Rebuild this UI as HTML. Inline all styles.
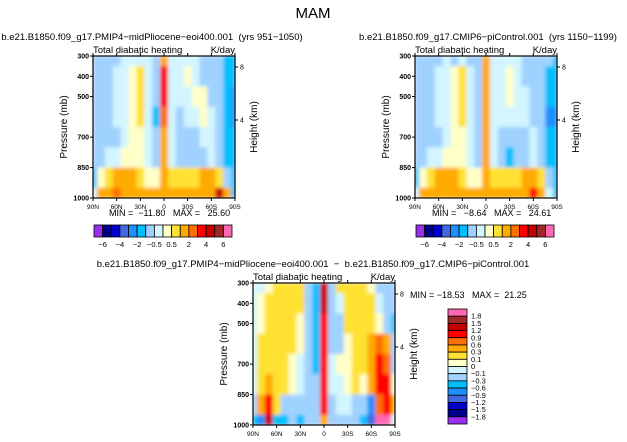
<!DOCTYPE html>
<html><head><meta charset="utf-8"><style>
body{margin:0;background:#fff}
svg{display:block;font-family:"Liberation Sans",sans-serif}
text{white-space:pre}
</style></head><body>
<svg id="s" width="627" height="442" viewBox="0 0 627 442">
<defs>
<filter id="soft" x="0" y="0" width="1" height="1"><feGaussianBlur stdDeviation="1.8" edgeMode="duplicate"/></filter>
</defs>
<text x="313" y="18" font-size="15" text-anchor="middle" fill="#000">MAM</text>
</svg>
<script>
const lats = ['90N','80N','70N','60N','50N','40N','30N','20N','10N','0','10S','20S','30S','40S','50S','60S','70S','80S','90S'];
const plevs = [300,400,500,600,700,800,900,1000];
const palette = ['#9b2ff0','#00008b','#0000cd','#4169e1','#1e90ff','#00bfff','#a0d2ff','#d2f5ff','#ffffc8','#ffe132','#ffaa00','#ff6e00','#ff0000','#c80000','#a02828','#ff69b4'];
const levelsAbs = [-6,-5,-4,-3,-2,-1,-0.5,0,0.5,1,2,3,4,5,6];
const levelsDiff = [-1.8,-1.5,-1.2,-0.9,-0.6,-0.3,-0.1,0,0.1,0.3,0.6,0.9,1.2,1.5,1.8];
const absLabels = ['-6','-4','-2','-0.5','0.5','2','4','6'];
const diffLabels = ['1.8','1.5','1.2','0.9','0.6','0.3','0.1','0','-0.1','-0.3','-0.6','-0.9','-1.2','-1.5','-1.8'];
const pTicks = [300,400,500,700,850,1000];
const latTicks = ['90N','60N','30N','0','30S','60S','90S'];
const field1 = [
[-0.7,-0.7,-0.7,-0.7,-0.3,-0.3,-0.3,-0.3,-0.7,1.5,-0.3,-0.3,-0.3,-0.3,-0.7,-0.7,-0.7,-1.5,-1.5],
[-0.7,-0.7,-0.7,-0.3,-0.3,0.3,0.7,-0.3,-0.7,3.5,-0.3,-0.3,0.3,-0.3,-0.7,-0.7,-0.7,-1.5,-1.5],
[-0.7,-0.7,-0.7,-0.3,-0.3,0.3,0.7,-0.3,-0.7,3.5,-0.3,-0.3,-0.3,0.3,0.3,-0.7,-0.7,-1.5,-2.5],
[-0.7,-0.7,-0.7,-0.3,-0.3,0.3,0.7,-0.3,-1.5,2.5,-0.3,-0.7,-0.3,-0.3,0.3,-0.3,-0.7,-1.5,-2.5],
[-0.7,-0.7,-0.7,-0.7,-0.3,0.3,0.3,-0.3,-0.7,1.5,-0.3,-0.7,-0.7,-0.7,-0.3,-0.3,-0.7,-1.5,-1.5],
[-0.7,-0.7,-0.3,-0.3,0.3,0.3,0.3,-0.3,-0.7,1.5,-0.3,-0.7,-0.7,-0.7,-0.7,-0.3,-0.7,-1.5,-1.5],
[-1.5,0.3,0.7,1.5,1.5,1.5,0.7,0.3,0.3,1.5,0.7,0.7,0.7,0.7,1.5,1.5,0.7,-0.7,-1.5],
[-0.3,1.5,1.5,2.5,1.5,1.5,1.5,1.5,1.5,1.5,1.5,1.5,1.5,1.5,1.5,1.5,4.5,1.5,-1.5]];
const field2 = [
[-0.7,-0.7,-0.7,-0.7,-0.3,-0.7,-0.3,-0.7,-0.7,1.5,-0.3,-0.3,-0.3,-0.3,-0.7,-0.7,-0.7,-0.7,-1.5],
[-0.7,-0.7,-0.7,-0.3,-0.3,0.3,0.7,-0.3,-0.7,1.5,-0.3,-0.3,0.3,-0.3,-0.7,-0.7,-0.7,-1.5,-1.5],
[-0.7,-0.7,-0.7,-0.3,-0.3,0.3,0.7,-0.3,-0.7,1.5,-0.3,-0.3,0.3,-0.3,-0.3,-0.7,-0.7,-1.5,-1.5],
[-0.7,-0.7,-0.7,-0.3,-0.3,0.3,0.7,-0.3,-0.7,1.5,-0.3,-0.3,-0.3,-0.3,-0.3,-0.7,-0.7,-2.5,-2.5],
[-0.7,-0.7,-0.7,-0.7,-0.3,0.3,0.3,-0.3,-0.7,1.5,-0.3,-0.7,-0.7,-0.7,-0.7,-0.3,-0.7,-1.5,-1.5],
[-0.7,-0.7,-0.3,-0.3,0.3,0.3,0.3,-0.3,-0.7,1.5,-0.3,-0.7,-1.5,-0.7,-0.7,-0.3,-0.7,-1.5,-1.5],
[-1.5,0.3,0.7,1.5,1.5,1.5,0.7,0.3,0.3,1.5,0.7,0.7,0.7,0.7,1.5,1.5,0.7,-0.7,-1.5],
[-0.3,1.5,1.5,1.5,1.5,1.5,1.5,1.5,1.5,1.5,1.5,1.5,1.5,1.5,1.5,3.5,1.5,-0.3,-1.5]];
const field3 = [
[-0.05,-0.05,0.05,0.2,0.2,0.2,0.2,-0.2,-0.45,1.35,-0.2,0.2,0.2,0.2,0.2,0.05,-0.2,-0.2,-0.2],
[-0.05,0.05,0.2,0.2,0.2,0.2,0.2,-0.2,-0.45,1.35,-0.2,-0.05,0.2,0.2,0.2,0.2,-0.05,-0.2,-0.2],
[-0.05,0.05,0.2,0.2,0.2,0.2,0.05,-0.2,-0.45,1.0,-0.2,-0.2,0.2,0.2,0.2,0.2,0.05,-0.2,-0.45],
[-0.05,0.2,0.2,0.2,0.2,0.2,0.05,-0.2,-0.45,1.0,-0.2,-0.2,0.05,0.2,0.2,0.45,0.75,0.45,-0.2],
[-0.05,0.2,0.2,0.2,0.2,0.05,-0.05,-0.2,-0.45,1.0,-0.05,0.05,0.05,0.2,0.2,0.45,1.0,0.75,-0.2],
[-0.05,0.2,0.45,0.2,0.2,0.05,-0.05,-0.2,-0.2,1.0,-0.05,-0.05,0.05,0.2,0.05,0.45,1.0,1.0,0.05],
[-0.2,0.45,1.0,0.2,-0.2,-0.2,-0.2,-0.2,-0.2,1.0,-0.2,-0.05,-0.05,-0.2,-0.2,-0.75,0.75,1.0,0.45],
[-0.45,-0.75,1.35,-0.45,-0.45,-0.2,-0.45,-0.2,-0.2,0.45,-0.2,-0.2,-0.2,-0.2,-0.45,-1.05,2.0,2.0,-0.05]];

const NS='http://www.w3.org/2000/svg';
const svg=document.getElementById('s');
function mk(tag,at,parent){const e=document.createElementNS(NS,tag);for(const k in at)e.setAttribute(k,at[k]);(parent||svg).appendChild(e);return e;}
function colorFor(v,lv){let i=0;while(i<lv.length&&v>=lv[i])i++;return palette[i];}
function txt(x,y,s,size,anchor,parent){const t=mk('text',{x:x,y:y,'font-size':size,'text-anchor':anchor||'start',fill:'#000'},parent);t.textContent=s;return t;}

function panel(id,ox,oy,field,lv,title,titleX){
  const W=142,H=142;
  const g=mk('g',{});
  
  
  const xs=i=>ox+(i/(lats.length-1))*W;
  const ys=p=>oy+(p-300)/700*H;
  const dx=W/(lats.length-1), dpH=100;
  const cells=mk('g',{filter:'url(#soft)'},g);
  
  
  for(let r=0;r<plevs.length;r++){for(let c=0;c<lats.length;c++){
    const x0=Math.max(ox,xs(c)-dx/2),x1=Math.min(ox+W,xs(c)+dx/2);
    const y0=Math.max(oy,ys(plevs[r]-dpH/2)),y1=Math.min(oy+H,ys(plevs[r]+dpH/2));
    const cell=mk('rect',{x:x0,y:y0,width:x1-x0+0.3,height:y1-y0+0.3,fill:colorFor(field[r][c],lv)},cells);
    
    
  }}
  const fr=mk('rect',{x:ox,y:oy,width:W,height:H,fill:'none',stroke:'#000','stroke-width':1.2},g);
  
  
  pTicks.forEach(p=>{const y=ys(p);mk('line',{x1:ox-3,x2:ox,y1:y,y2:y,stroke:'#000'},g);
    const t=txt(ox-4,y+2.5,String(p),7,'end',g);t.setAttribute('font-weight','bold');
    
    });
  latTicks.forEach((l,i)=>{const x=ox+i*W/6;mk('line',{x1:x,x2:x,y1:oy+H,y2:oy+H+3,stroke:'#000'},g);
    mk('line',{x1:x,x2:x,y1:oy,y2:oy-3,stroke:'#000'},g);
    const t=txt(x,oy+H+11,l,6.5,'middle',g);
    
    });
  [[8,11],[4,64]].forEach(h=>{const y=oy+h[1];mk('line',{x1:ox+W,x2:ox+W+3,y1:y,y2:y,stroke:'#000'},g);
    const t=txt(ox+W+5,y+2.5,String(h[0]),7,'start',g);
    
    });
  const yl=txt(0,0,'Pressure (mb)',10,'middle',g);yl.setAttribute('transform',`translate(${ox-26},${oy+H/2}) rotate(-90)`);
  
  
  const yr=txt(0,0,'Height (km)',10,'middle',g);yr.setAttribute('transform',`translate(${ox+W+22},${oy+H/2}) rotate(-90)`);
  
  
  const a=txt(ox,oy-3,'Total diabatic heating',9.5,'start',g);
  
  
  const b=txt(ox+W,oy-3,'K/day',9.5,'end',g);
  
  
  const t=txt(titleX,oy-16,title,9.5,'middle',g);
  
  
}
panel('panel-midpliocene',93,56,field1,levelsAbs,'b.e21.B1850.f09_g17.PMIP4\u2212midPliocene\u2212eoi400.001  (yrs 951\u22121050)',152);
panel('panel-picontrol',415,56,field2,levelsAbs,'b.e21.B1850.f09_g17.CMIP6\u2212piControl.001  (yrs 1150\u22121199)',488);
panel('panel-difference',253,283,field3,levelsDiff,'b.e21.B1850.f09_g17.PMIP4\u2212midPliocene\u2212eoi400.001  \u2212  b.e21.B1850.f09_g17.CMIP6\u2212piControl.001',313);

function stat(x,y,s,name){const t=txt(x,y,s,9,'start');}
stat(109,216,'MIN =  \u221211.80   MAX =   25.60','minmax-label-1');
stat(432,216,'MIN =   \u22128.64   MAX =   24.61','minmax-label-2');
stat(410,298,'MIN = \u221218.53   MAX =  21.25','minmax-label-3');

function hbar(ox,oy,name){
  const W=138,h=12,bw=W/16;
  const g=mk('g',{});
  
  
  for(let i=0;i<16;i++){const r=mk('rect',{x:ox+i*bw,y:oy,width:bw,height:h,fill:palette[i],stroke:'#000','stroke-width':0.8},g);
    
    }
  absLabels.forEach((l,k)=>{const t=txt(ox+(1+2*k)*bw,oy+h+10,l.replace('-','\u2212'),7.5,'middle',g);
    
    });
}
hbar(94,225,'colorbar-1');hbar(416,225,'colorbar-2');
(function(){
  const ox=448,oy=309,w=19,H=115,bh=H/16;
  const g=mk('g',{});
  
  
  for(let i=0;i<16;i++){const r=mk('rect',{x:ox,y:oy+i*bh,width:w,height:bh,fill:palette[15-i],stroke:'#000','stroke-width':0.8},g);
    
    }
  diffLabels.forEach((l,k)=>{const t=txt(ox+w+4,oy+(k+1)*bh+2.5,l.replace('-','\u2212'),7.5,'start',g);
    
    });
})();
</script>
</body></html>
